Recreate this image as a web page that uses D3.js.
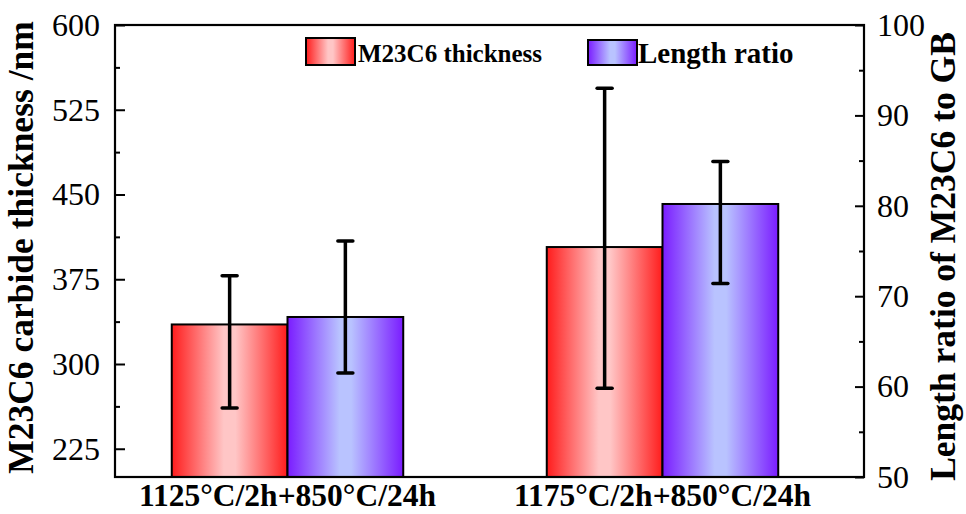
<!DOCTYPE html>
<html>
<head>
<meta charset="utf-8">
<script src="https://cdn.jsdelivr.net/npm/d3@7"></script>
<style>
  html, body { margin: 0; padding: 0; background: #fff; }
  svg { display: block; }
  text { font-family: "Liberation Serif", "Times New Roman", serif; fill: #000; }
</style>
</head>
<body>
<svg id="chart" width="966" height="514"></svg>
<script>
// ---- data ----
const categories = ["1125°C/2h+850°C/24h", "1175°C/2h+850°C/24h"];
const seriesNames = ["M23C6 thickness", "Length ratio"];
const thickness = [335, 403.5];          // nm (left axis)
const thicknessLow = [261, 278.5];
const thicknessHigh = [378, 544];
const ratio = [67.7, 80.2];              // % (right axis)
const ratioLow = [61.5, 71.4];
const ratioHigh = [76.1, 84.9];
const leftTicks = [225, 300, 375, 450, 525, 600];
const leftMinorTicks = [262.5, 337.5, 412.5, 487.5, 562.5];
const rightTicks = [50, 60, 70, 80, 90, 100];
const rightMinorTicks = [55, 65, 75, 85, 95];

// ---- layout ----
const svg = d3.select("#chart");
const L = 115, R = 864, T = 25, B = 477;

const yL = d3.scaleLinear().domain([200, 600]).range([B, T]);
const yR = d3.scaleLinear().domain([50, 100]).range([B, T]);
const x0 = d3.scaleBand().domain(categories).range([100, 850]).padding(0);
const x1 = d3.scaleBand().domain(seriesNames).range([0, x0.bandwidth()]).paddingInner(0).paddingOuter(0.62);

// gradients
const defs = svg.append("defs");
function grad(id, edge, mid) {
  const g = defs.append("linearGradient").attr("id", id)
    .attr("x1", "0%").attr("x2", "100%").attr("y1", "0%").attr("y2", "0%");
  g.append("stop").attr("offset", "0%").attr("stop-color", edge);
  g.append("stop").attr("offset", "45%").attr("stop-color", mid);
  g.append("stop").attr("offset", "55%").attr("stop-color", mid);
  g.append("stop").attr("offset", "100%").attr("stop-color", edge);
}
grad("gRed", "#ff1c1c", "#ffc6c6");
grad("gBlue", "#7a1cff", "#b9c3ff");

const series = [
  { name: seriesNames[0], vals: thickness, lo: thicknessLow, hi: thicknessHigh, y: yL, fill: "url(#gRed)" },
  { name: seriesNames[1], vals: ratio, lo: ratioLow, hi: ratioHigh, y: yR, fill: "url(#gBlue)" }
];

// bars
series.forEach(s => {
  svg.append("g").selectAll("rect").data(categories).join("rect")
    .attr("x", c => x0(c) + x1(s.name))
    .attr("width", x1.bandwidth())
    .attr("y", (c, i) => s.y(s.vals[i]))
    .attr("height", (c, i) => B - s.y(s.vals[i]))
    .attr("fill", s.fill)
    .attr("stroke", "#000").attr("stroke-width", 2);
});

// error bars
series.forEach(s => {
  const g = svg.append("g").attr("stroke", "#000").attr("stroke-width", 3.5);
  categories.forEach((c, i) => {
    const cx = x0(c) + x1(s.name) + x1.bandwidth() / 2;
    g.append("line").attr("x1", cx).attr("x2", cx).attr("y1", s.y(s.lo[i])).attr("y2", s.y(s.hi[i]));
    [s.lo[i], s.hi[i]].forEach(v => {
      g.append("line").attr("x1", cx - 7.5).attr("x2", cx + 7.5).attr("y1", s.y(v)).attr("y2", s.y(v))
        .attr("stroke-linecap", "round");
    });
  });
});

// frame
svg.append("rect").attr("x", L).attr("y", T).attr("width", R - L).attr("height", B - T)
  .attr("fill", "none").attr("stroke", "#000").attr("stroke-width", 2.2);

// left axis
const axL = d3.axisLeft(yL).tickValues(leftTicks).tickSize(-10).tickPadding(15).tickFormat(d3.format("d"));
const gL = svg.append("g").attr("transform", `translate(${L},0)`).call(axL);
const gLm = svg.append("g").attr("transform", `translate(${L},0)`)
  .call(d3.axisLeft(yL).tickValues(leftMinorTicks).tickSize(-5).tickFormat(""));
// right axis
const axR = d3.axisRight(yR).tickValues(rightTicks).tickSize(-9).tickPadding(13).tickFormat(d3.format("d"));
const gR = svg.append("g").attr("transform", `translate(${R},0)`).call(axR);
const gRm = svg.append("g").attr("transform", `translate(${R},0)`)
  .call(d3.axisRight(yR).tickValues(rightMinorTicks).tickSize(-5).tickFormat(""));

[gL, gLm, gR, gRm].forEach(g => {
  g.select(".domain").remove();
  g.selectAll(".tick line").attr("stroke", "#000").attr("stroke-width", 2);
  g.selectAll(".tick text").style("font-family", "'Liberation Serif', 'Times New Roman', serif")
    .style("font-size", "32px").attr("fill", "#000");
});

// x labels
svg.append("g").selectAll("text").data(categories).join("text")
  .attr("x", c => x0(c) + x0.bandwidth() / 2)
  .attr("y", 506)
  .attr("text-anchor", "middle")
  .style("font-size", "31.5px").style("font-weight", "bold")
  .text(c => c);

// axis titles
svg.append("text").attr("transform", "translate(33,247.5) rotate(-90)")
  .attr("text-anchor", "middle").style("font-size", "35.5px").style("font-weight", "bold")
  .text("M23C6 carbide thickness /nm");
svg.append("text").attr("transform", "translate(955,256.5) rotate(-90)")
  .attr("text-anchor", "middle").style("font-size", "35.5px").style("font-weight", "bold")
  .text("Length ratio of M23C6 to GB");

// legend
const legend = [
  { name: seriesNames[0], fill: "url(#gRed)", x: 306, y: 38, h: 27, tx: 358, ty: 62, fs: 25 },
  { name: seriesNames[1], fill: "url(#gBlue)", x: 588, y: 40, h: 25, tx: 638, ty: 63, fs: 29 }
];
legend.forEach(l => {
  svg.append("rect").attr("x", l.x).attr("y", l.y).attr("width", 49).attr("height", l.h)
    .attr("fill", l.fill).attr("stroke", "#000").attr("stroke-width", 2);
  svg.append("text").attr("x", l.tx).attr("y", l.ty)
    .style("font-size", l.fs + "px").style("font-weight", "bold").text(l.name);
});
</script>
</body>
</html>
